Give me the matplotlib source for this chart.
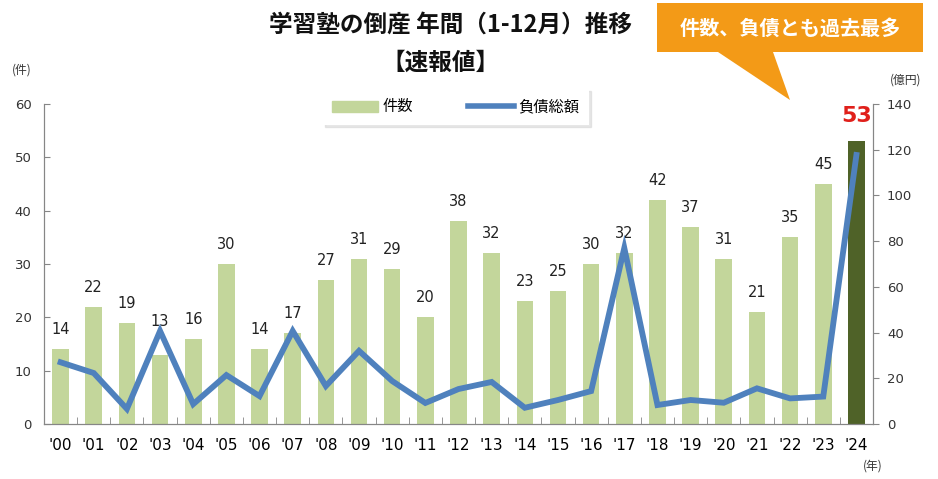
import numpy as np
import matplotlib
matplotlib.use('Agg')
import matplotlib.pyplot as plt
from matplotlib.patches import Polygon

plt.rcParams['font.family'] = ['Noto Sans CJK JP', 'DejaVu Sans']

# データ
years = ["'00", "'01", "'02", "'03", "'04", "'05", "'06", "'07", "'08", "'09", "'10", "'11", "'12",
         "'13", "'14", "'15", "'16", "'17", "'18", "'19", "'20", "'21", "'22", "'23", "'24"]
counts = [14, 22, 19, 13, 16, 30, 14, 17, 27, 31, 29, 20, 38, 32, 23, 25, 30, 32, 42, 37, 31, 21, 35, 45, 53]
debt = [27, 22.3, 6.6, 40.7, 8.7, 21.4, 12.2, 40.7, 16.6, 32, 18.8, 9.2, 15.3, 18.4, 7.1, 10.5, 14.4,
        77, 8.3, 10.5, 9.3, 15.6, 11.2, 12, 117.7]

W, H = 938, 479
fig = plt.figure(figsize=(W / 100, H / 100), dpi=100)
ax = fig.add_axes([44 / W, (H - 424) / H, (873 - 44) / W, (424 - 104) / H])
ax2 = ax.twinx()

x = np.arange(len(years))
colors = ['#c3d69b'] * (len(years) - 1) + ['#4f6228']
ax.bar(x, counts, width=0.5, color=colors, zorder=2)
ax2.plot(x, debt, color='#4f81bd', lw=4.2, solid_joinstyle='miter', zorder=3)

# 棒の上の数値
for i, v in enumerate(counts):
    if i == len(counts) - 1:
        ax.annotate(str(v), (i, v), xytext=(0, 18), textcoords='offset points', ha='center', va='center',
                    fontsize=16, fontweight='bold', color='#e0201b', family='DejaVu Sans', zorder=5)
    else:
        off = 24 if i == 3 else 14
        ax.annotate(str(v), (i, v), xytext=(0, off), textcoords='offset points', ha='center', va='center',
                    fontsize=10.5, color='#222222', family='DejaVu Sans', zorder=5)

ax.set_xlim(-0.5, len(years) - 0.5)
ax.set_ylim(0, 60)
ax2.set_ylim(0, 140)
ax.set_yticks(range(0, 61, 10))
ax2.set_yticks(range(0, 141, 20))
ax.set_xticks(x)
ax.set_xticklabels(years, fontsize=11, family='DejaVu Sans')
ax.set_xticks(np.arange(-0.5, len(years), 1), minor=True)
ax.tick_params(axis='x', which='major', length=0, pad=10)
ax.tick_params(axis='x', which='minor', direction='in', length=5, color='#868686')
ax.tick_params(axis='y', direction='in', length=4, color='#868686', labelsize=9.5, pad=9)
ax2.tick_params(axis='y', direction='out', length=4, color='#868686', labelsize=9.5, pad=6)
for lab in ax.get_yticklabels() + ax2.get_yticklabels():
    lab.set_family('DejaVu Sans')
    lab.set_color('#333333')

for a in (ax, ax2):
    a.spines['top'].set_visible(False)
    for s in ('left', 'right', 'bottom'):
        a.spines[s].set_color('#868686')
# 折れ線を棒の上に
ax.set_zorder(0)
ax2.set_zorder(1)
ax2.patch.set_visible(False)

# タイトル
fig.text(450 / W, 1 - 25 / H, '学習塾の倒産 年間（1-12月）推移', ha='center', va='center',
         fontsize=17, fontweight='bold', color='#111111')
fig.text(440 / W, 1 - 63 / H, '【速報値】', ha='center', va='center',
         fontsize=17, fontweight='bold', color='#111111')

# 単位
fig.text(22 / W, 1 - 70 / H, '(件)', ha='center', va='center', fontsize=8.5, color='#333333')
fig.text(906 / W, 1 - 80 / H, '(億円)', ha='center', va='center', fontsize=8.5, color='#333333')
fig.text(873 / W, 1 - 466 / H, '(年)', ha='center', va='center', fontsize=8.5, color='#333333')

# 吹き出し
pts = [(657, 3), (923, 3), (923, 52), (773, 52), (790, 100), (718, 52), (657, 52)]
callout = Polygon([(px / W, 1 - py / H) for px, py in pts], closed=True, transform=fig.transFigure,
                  facecolor='#f39a17', edgecolor='none', zorder=20)
fig.patches.append(callout)
fig.text(790 / W, 1 - 28 / H, '件数、負債とも過去最多', ha='center', va='center',
         fontsize=14.5, fontweight='bold', color='white', zorder=21)

# 凡例
h1 = plt.Rectangle((0, 0), 1, 1, color='#c3d69b')
h2, = ax2.plot([], [], color='#4f81bd', lw=4)
leg = fig.legend([h1, h2], ['件数', '負債総額'], loc='center', bbox_to_anchor=(456 / W, 1 - 107 / H),
                 ncol=2, fontsize=11, frameon=True, fancybox=False, edgecolor='none',
                 shadow={'color': '#d0d0d0', 'ox': 1.5, 'oy': -1.5},
                 handlelength=3.0, handletextpad=0.3, columnspacing=3.6, borderpad=0.6,
                 borderaxespad=0)
leg.get_frame().set_facecolor('white')
leg.set_zorder(30)

fig.savefig('out.png', dpi=100)
